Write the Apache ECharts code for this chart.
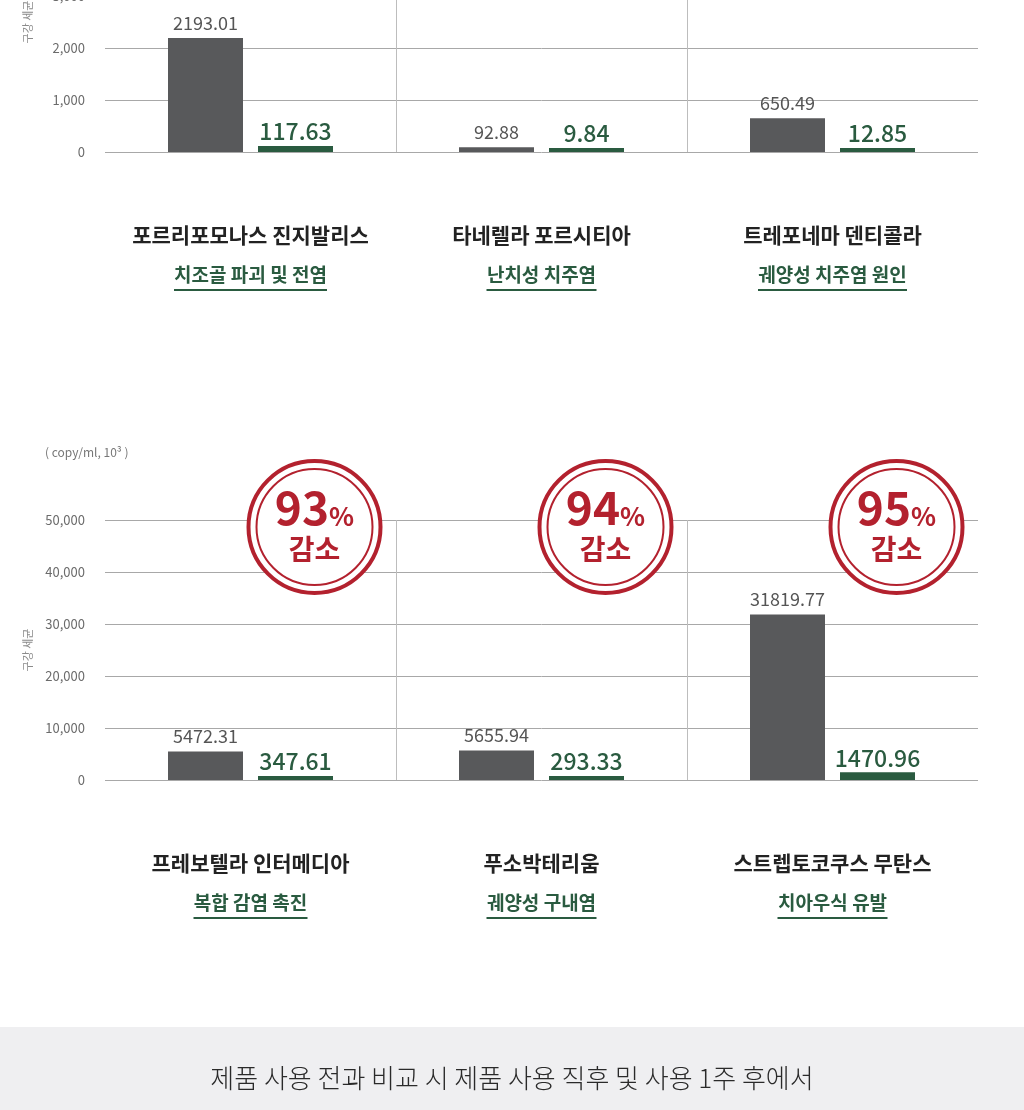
<!DOCTYPE html>
<html>
<head>
<meta charset="utf-8">
<script src="https://cdn.jsdelivr.net/npm/echarts@6/dist/echarts.min.js"></script>
<style>
html,body{margin:0;padding:0;background:#fff;}
#chart{width:1024px;height:1110px;}
</style>
</head>
<body>
<div id="chart"></div>
<script>
// ---- data ----
const topCategories = ['포르리포모나스 진지발리스', '타네렐라 포르시티아', '트레포네마 덴티콜라'];
const topEffects = ['치조골 파괴 및 전염', '난치성 치주염', '궤양성 치주염 원인'];
const topBefore = [2193.01, 92.88, 650.49];
const topAfter = [117.63, 9.84, 12.85];

const bottomCategories = ['프레보텔라 인터메디아', '푸소박테리움', '스트렙토코쿠스 무탄스'];
const bottomEffects = ['복합 감염 촉진', '궤양성 구내염', '치아우식 유발'];
const bottomBefore = [5472.31, 5655.94, 31819.77];
const bottomAfter = [347.61, 293.33, 1470.96];
const reductionPct = [93, 94, 95];

const topTicks = [0, 1000, 2000, 3000, 4000, 5000];
const bottomTicks = [0, 10000, 20000, 30000, 40000, 50000];

const yAxisName = '구강 세균';
const unitText = '( copy/ml, 10³ )';
const footerText = '제품 사용 전과 비교 시 제품 사용 직후 및 사용 1주 후에서';

// ---- styles ----
const FONT = '"Noto Sans CJK KR", "Noto Sans", sans-serif';
const GRAY = '#58595b';
const GREEN = '#2a5b40';
const RED = '#b3212e';

function measure(text, font) {
  const c = document.createElement('canvas').getContext('2d');
  c.font = font;
  return Math.ceil(c.measureText(text).width);
}

function axisLabelRich(effects) {
  const rich = {
    n: { fontSize: 21, fontWeight: 'bold', color: '#222', lineHeight: 52, align: 'center', fontFamily: FONT },
    s: { fontSize: 19, fontWeight: 'bold', color: GREEN, lineHeight: 28, align: 'center', fontFamily: FONT }
  };
  effects.forEach((e, i) => {
    rich['u' + i] = {
      width: measure(e, 'bold 19px ' + FONT),
      height: 2, lineHeight: 2, backgroundColor: GREEN, align: 'center'
    };
  });
  return rich;
}

function xAxis(gridIndex, cats, effects) {
  return {
    type: 'category', gridIndex, data: cats,
    axisLine: { show: false }, axisTick: { show: false },
    splitLine: { show: true, showMinLine: false, showMaxLine: false, lineStyle: { color: '#bdbdbd', width: 1 } },
    axisLabel: {
      margin: 57, interval: 0,
      formatter: (v, i) => '{n|' + v + '}\n{s|' + effects[i] + '}\n{u' + i + '|}',
      rich: axisLabelRich(effects)
    }
  };
}

function yAxis(gridIndex, ticks) {
  return {
    type: 'value', gridIndex,
    min: ticks[0], max: ticks[ticks.length - 1], interval: ticks[1] - ticks[0],
    name: yAxisName, nameLocation: 'middle', nameGap: 72, nameRotate: 90,
    nameTextStyle: { color: '#8a8a8a', fontSize: 11, fontFamily: FONT },
    axisLine: { show: false }, axisTick: { show: false },
    axisLabel: { margin: 20, color: '#6b6b6b', fontSize: 13, fontFamily: FONT,
      formatter: (v) => v.toLocaleString('en-US') },
    splitLine: { lineStyle: { color: '#a8a8a8', width: 1 } }
  };
}

function barPair(axisIdx, before, after) {
  return [
    {
      type: 'bar', xAxisIndex: axisIdx, yAxisIndex: axisIdx, data: before,
      barWidth: 75, barGap: '20%', barMinHeight: 4,
      itemStyle: { color: GRAY },
      label: { show: true, position: 'top', distance: 6, color: '#555', fontSize: 18, fontFamily: FONT,
        formatter: (p) => p.value.toFixed(2) },
      z: 3
    },
    {
      type: 'bar', xAxisIndex: axisIdx, yAxisIndex: axisIdx, data: after,
      barWidth: 75, barGap: '20%', barMinHeight: 4,
      itemStyle: { color: GREEN },
      label: { show: true, position: 'top', distance: 3, color: GREEN, fontSize: 23, fontWeight: 500, fontFamily: FONT,
        formatter: (p) => p.value.toFixed(2) },
      z: 3
    }
  ];
}

const ringY = bottomTicks[bottomTicks.length - 1];
const ringData = reductionPct.map((p, i) => ({ value: [i, ringY], pct: p }));

const option = {
  backgroundColor: '#ffffff',
  animation: false,
  textStyle: { fontFamily: FONT },
  grid: [
    { left: 105, right: 46, top: -108, height: 260, outerBoundsMode: 'none', containLabel: false },
    { left: 105, right: 46, top: 520, height: 260, outerBoundsMode: 'none', containLabel: false }
  ],
  xAxis: [xAxis(0, topCategories, topEffects), xAxis(1, bottomCategories, bottomEffects)],
  yAxis: [yAxis(0, topTicks), yAxis(1, bottomTicks)],
  series: [
    ...barPair(0, topBefore, topAfter),
    ...barPair(1, bottomBefore, bottomAfter),
    {
      type: 'scatter', xAxisIndex: 1, yAxisIndex: 1, data: ringData, clip: false,
      symbol: 'circle', symbolSize: 132, symbolOffset: [64, 7],
      itemStyle: { color: '#fff', borderColor: RED, borderWidth: 4, opacity: 1 },
      z: 10, silent: true
    },
    {
      type: 'scatter', xAxisIndex: 1, yAxisIndex: 1, data: ringData, clip: false,
      symbol: 'circle', symbolSize: 116, symbolOffset: [64, 7],
      itemStyle: { color: 'rgba(0,0,0,0)', borderColor: RED, borderWidth: 2, opacity: 1 },
      label: {
        show: true, position: 'inside', offset: [0, 0],
        formatter: (p) => '{b|' + p.data.pct + '}{p|%}\n{k|감소}',
        rich: {
          b: { fontSize: 46, fontWeight: 'bold', color: RED, fontFamily: FONT, lineHeight: 44, verticalAlign: 'bottom' },
          p: { fontSize: 26, fontWeight: 'bold', color: RED, fontFamily: FONT, lineHeight: 44, verticalAlign: 'bottom', padding: [0, 0, 2, 0] },
          k: { fontSize: 28, fontWeight: 'bold', color: RED, fontFamily: FONT, lineHeight: 36, align: 'center' }
        }
      },
      z: 11, silent: true
    }
  ],
  graphic: [
    { type: 'text', left: 45, top: 446, style: { text: unitText, fill: '#777', fontSize: 12, fontFamily: FONT } },
    { type: 'rect', left: 0, top: 1027, shape: { width: 1024, height: 83 }, style: { fill: '#efeff1' }, z: -1 },
    { type: 'text', left: 'center', top: 1065, style: { text: footerText, fill: '#2a2a2a', fontSize: 26, fontWeight: 300, fontFamily: FONT } }
  ]
};

const chart = echarts.init(document.getElementById('chart'), null, { renderer: 'canvas' });
chart.setOption(option);
</script>
</body>
</html>
